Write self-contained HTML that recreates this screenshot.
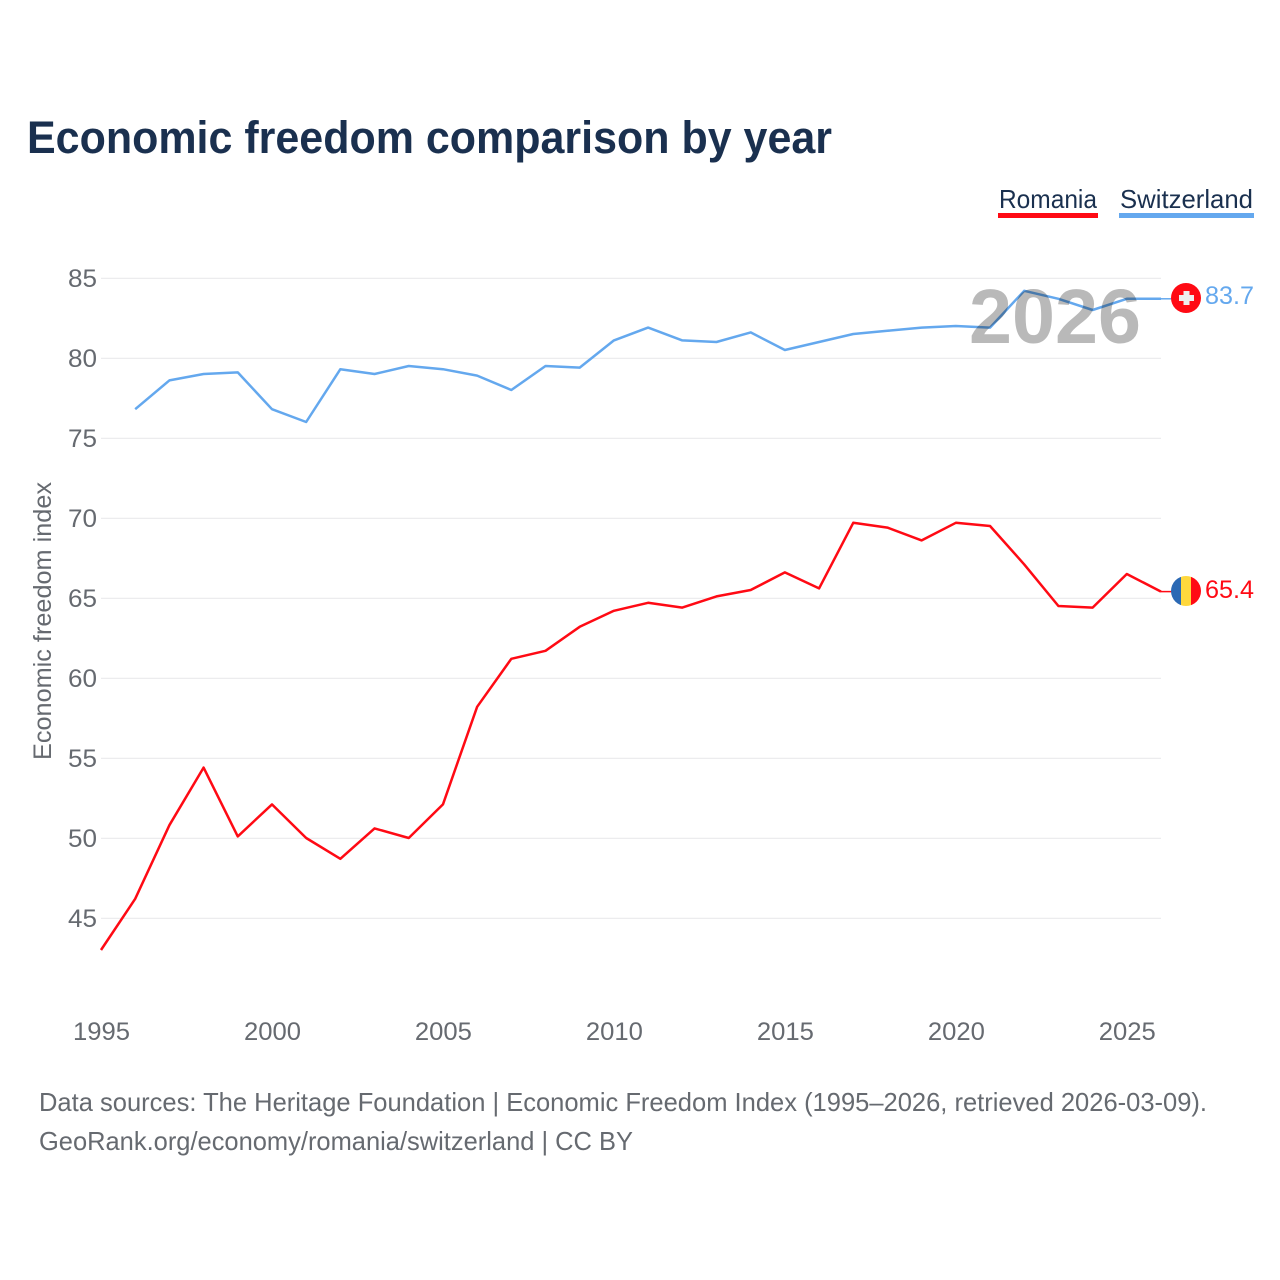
<!DOCTYPE html>
<html lang="en">
<head>
<meta charset="utf-8">
<title>Economic freedom comparison by year</title>
<style>
html,body{margin:0;padding:0;background:#fff;}
svg{display:block;font-family:"Liberation Sans",sans-serif;}
</style>
</head>
<body>
<svg id="chart" xmlns="http://www.w3.org/2000/svg" width="1280" height="1280" viewBox="0 0 1280 1280">
  <rect width="1280" height="1280" fill="#fff"/>
  <text x="27" y="153" font-size="45" font-weight="700" fill="#1a304f" textLength="805" lengthAdjust="spacingAndGlyphs">Economic freedom comparison by year</text>

  <g>
    <text x="999" y="208" font-size="26" fill="#1a304f" textLength="98" lengthAdjust="spacingAndGlyphs">Romania</text>
    <rect x="998" y="213" width="100" height="5" fill="#ff0a14"/>
  </g>
  <g>
    <text x="1120" y="208" font-size="26" fill="#1a304f" textLength="133" lengthAdjust="spacingAndGlyphs">Switzerland</text>
    <rect x="1119" y="213" width="135" height="5" fill="#64a8ee"/>
  </g>

  <g id="grid"></g>
  <g id="yticks"></g>
  <g id="xticks"></g>
  <g id="series"></g>

  <text x="1141" y="343" text-anchor="end" font-size="77" font-weight="700" fill="#b9b9b9" textLength="172" lengthAdjust="spacingAndGlyphs" style="mix-blend-mode:multiply">2026</text>

  <text transform="translate(51,621) rotate(-90)" text-anchor="middle" font-size="25" fill="#666a70" textLength="278" lengthAdjust="spacingAndGlyphs">Economic freedom index</text>

  <g>
    <circle cx="1186" cy="298" r="15" fill="#ff0a14"/>
    <rect x="1183.5" y="291" width="6" height="14" fill="#eee"/>
    <rect x="1179" y="295" width="15" height="6" fill="#eee"/>
  </g>
  <g>
    <clipPath id="ro-clip"><circle cx="1186" cy="591" r="15"/></clipPath>
    <g clip-path="url(#ro-clip)">
      <rect x="1171" y="576" width="10" height="30" fill="#2b69b4"/>
      <rect x="1181" y="576" width="10" height="30" fill="#ffd83d"/>
      <rect x="1191" y="576" width="10" height="30" fill="#ff0a14"/>
    </g>
  </g>
  <text x="1205" y="304" font-size="25" fill="#64a8ee" textLength="49" lengthAdjust="spacingAndGlyphs">83.7</text>
  <text x="1205" y="598" font-size="25" fill="#ff0a14" textLength="49" lengthAdjust="spacingAndGlyphs">65.4</text>

  <text x="39" y="1111" font-size="26" fill="#666a70" textLength="1168" lengthAdjust="spacingAndGlyphs">Data sources: The Heritage Foundation | Economic Freedom Index (1995–2026, retrieved 2026-03-09).</text>
  <text x="39" y="1150" font-size="26" fill="#666a70" textLength="594" lengthAdjust="spacingAndGlyphs">GeoRank.org/economy/romania/switzerland | CC BY</text>
</svg>
<script>
const years = [1995,1996,1997,1998,1999,2000,2001,2002,2003,2004,2005,2006,2007,2008,2009,2010,2011,2012,2013,2014,2015,2016,2017,2018,2019,2020,2021,2022,2023,2024,2025,2026];
const romania = [43.0,46.2,50.8,54.4,50.1,52.1,50.0,48.7,50.6,50.0,52.1,58.2,61.2,61.7,63.2,64.2,64.7,64.4,65.1,65.5,66.6,65.6,69.7,69.4,68.6,69.7,69.5,67.1,64.5,64.4,66.5,65.4];
const switzerland = [null,76.8,78.6,79.0,79.1,76.8,76.0,79.3,79.0,79.5,79.3,78.9,78.0,79.5,79.4,81.1,81.9,81.1,81.0,81.6,80.5,81.0,81.5,81.7,81.9,82.0,81.9,84.2,83.7,83.0,83.7,83.7];
const yTickValues = [45,50,55,60,65,70,75,80,85];
const xTickValues = [1995,2000,2005,2010,2015,2020,2025];

const NS = 'http://www.w3.org/2000/svg';
const xScale = function (year) { return 101 + (year - 1995) * (1161 - 101) / 31; };
const yScale = function (value) { return 278 + (85 - value) * 16; };

const gridGroup = document.getElementById('grid');
const yGroup = document.getElementById('yticks');
const xGroup = document.getElementById('xticks');
const seriesGroup = document.getElementById('series');

yTickValues.forEach(function (value) {
  const line = document.createElementNS(NS, 'line');
  
  
  line.setAttribute('x1', 101);
  line.setAttribute('x2', 1161);
  line.setAttribute('y1', yScale(value) + 0.3);
  line.setAttribute('y2', yScale(value) + 0.3);
  line.setAttribute('stroke', '#e9eaeb');
  line.setAttribute('stroke-width', 1.2);
  gridGroup.appendChild(line);

  const label = document.createElementNS(NS, 'text');
  
  
  label.setAttribute('x', 97);
  label.setAttribute('y', yScale(value) + 9);
  label.setAttribute('text-anchor', 'end');
  label.setAttribute('font-size', 25);
  label.setAttribute('fill', '#666a70');
  label.setAttribute('textLength', 29);
  label.setAttribute('lengthAdjust', 'spacingAndGlyphs');
  label.textContent = value;
  yGroup.appendChild(label);
});

xTickValues.forEach(function (year) {
  const label = document.createElementNS(NS, 'text');
  
  
  label.setAttribute('x', xScale(year) + 0.5);
  label.setAttribute('y', 1040);
  label.setAttribute('text-anchor', 'middle');
  label.setAttribute('font-size', 25);
  label.setAttribute('fill', '#666a70');
  label.setAttribute('textLength', 57);
  label.setAttribute('lengthAdjust', 'spacingAndGlyphs');
  label.textContent = year;
  xGroup.appendChild(label);
});

function buildPoints(values) {
  const pts = [];
  values.forEach(function (value, i) {
    if (value !== null) {
      pts.push(xScale(years[i]).toFixed(2) + ',' + yScale(value).toFixed(2));
    }
  });
  return pts.join(' ');
}

const romaniaLine = document.createElementNS(NS, 'polyline');


romaniaLine.setAttribute('points', buildPoints(romania));
romaniaLine.setAttribute('fill', 'none');
romaniaLine.setAttribute('stroke', '#ff0a14');
romaniaLine.setAttribute('stroke-width', 2.5);
romaniaLine.setAttribute('stroke-linejoin', 'round');
seriesGroup.appendChild(romaniaLine);

const switzerlandLine = document.createElementNS(NS, 'polyline');


switzerlandLine.setAttribute('points', buildPoints(switzerland));
switzerlandLine.setAttribute('fill', 'none');
switzerlandLine.setAttribute('stroke', '#64a8ee');
switzerlandLine.setAttribute('stroke-width', 2.5);
switzerlandLine.setAttribute('stroke-linejoin', 'round');
seriesGroup.appendChild(switzerlandLine);

const romaniaLast = romania[romania.length - 1];
const romaniaLeader = document.createElementNS(NS, 'line');


romaniaLeader.setAttribute('x1', xScale(2026));
romaniaLeader.setAttribute('x2', 1172);
romaniaLeader.setAttribute('y1', yScale(romaniaLast));
romaniaLeader.setAttribute('y2', yScale(romaniaLast));
romaniaLeader.setAttribute('stroke', '#ff0a14');
romaniaLeader.setAttribute('stroke-width', 1.5);
seriesGroup.appendChild(romaniaLeader);

const switzerlandLast = switzerland[switzerland.length - 1];
const switzerlandLeader = document.createElementNS(NS, 'line');


switzerlandLeader.setAttribute('x1', xScale(2026));
switzerlandLeader.setAttribute('x2', 1172);
switzerlandLeader.setAttribute('y1', yScale(switzerlandLast));
switzerlandLeader.setAttribute('y2', yScale(switzerlandLast));
switzerlandLeader.setAttribute('stroke', '#64a8ee');
switzerlandLeader.setAttribute('stroke-width', 1.5);
seriesGroup.appendChild(switzerlandLeader);
</script>
</body>
</html>
